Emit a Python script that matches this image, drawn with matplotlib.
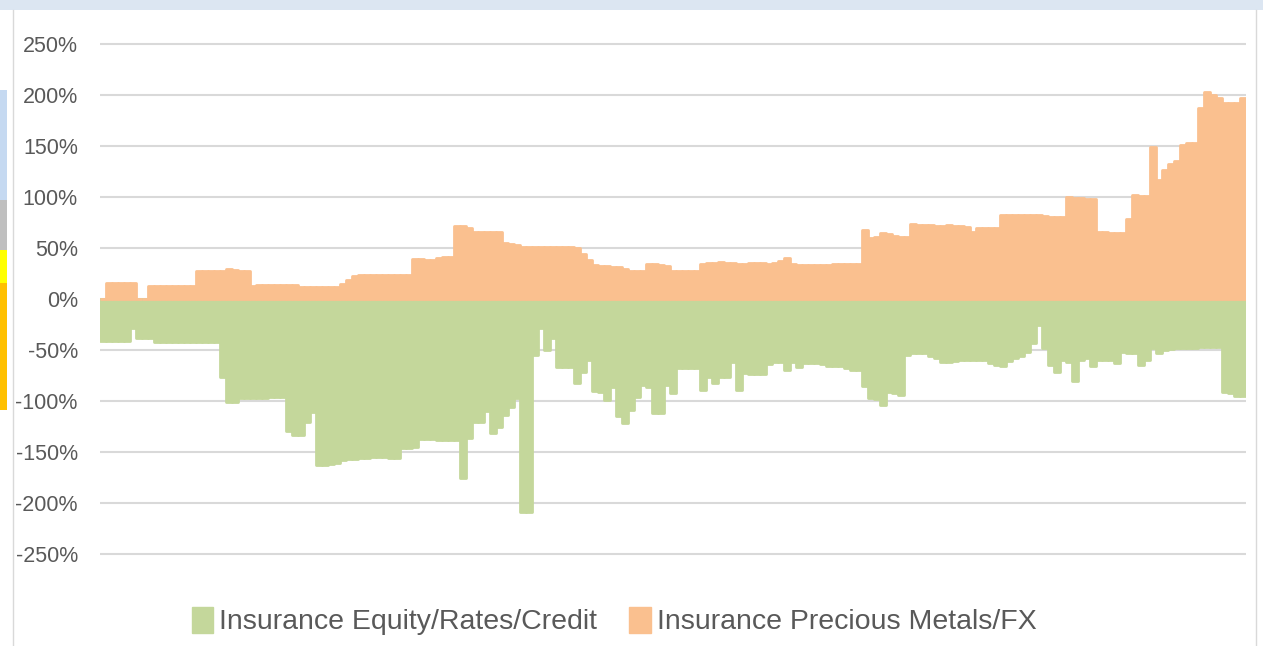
import matplotlib
matplotlib.use("Agg")
import matplotlib.pyplot as plt
from matplotlib.patches import Rectangle, Patch
from matplotlib.lines import Line2D
from matplotlib.ticker import FuncFormatter

# values in percent, one per period
equity_rates_credit = [
    -41, -41, -41, -41, -41, -28, -38, -38, -38, -42,
    -42, -42, -42, -42, -42, -42, -42, -42, -42, -42,
    -76, -101, -101, -97, -97, -97, -97, -97, -96, -96,
    -96, -129, -133, -133, -121, -111, -163, -163, -162, -161,
    -158, -157, -157, -156, -156, -155, -155, -155, -156, -156,
    -146, -146, -145, -137, -137, -137, -138, -138, -138, -138,
    -175, -136, -121, -121, -110, -131, -125, -114, -106, -97,
    -209, -209, -55, -28, -50, -38, -67, -67, -67, -82,
    -72, -60, -90, -91, -99, -86, -115, -122, -109, -96,
    -84, -86, -112, -112, -84, -92, -68, -68, -68, -68,
    -89, -76, -82, -76, -76, -62, -89, -73, -74, -74,
    -74, -64, -62, -62, -70, -62, -67, -63, -63, -63,
    -64, -66, -66, -66, -68, -70, -70, -85, -97, -98,
    -104, -91, -92, -94, -55, -53, -53, -53, -56, -58,
    -62, -62, -61, -60, -60, -60, -60, -60, -63, -65,
    -66, -61, -58, -56, -52, -43, -25, -48, -65, -72,
    -60, -62, -80, -60, -58, -66, -60, -60, -60, -63,
    -52, -53, -53, -65, -60, -48, -53, -50, -49, -48,
    -48, -48, -48, -47, -47, -47, -47, -91, -92, -95,
    -95,
]

precious_metals_fx = [
    0, 16, 16, 16, 16, 16, 0, 0, 13, 13,
    13, 13, 13, 13, 13, 13, 27, 27, 27, 27,
    27, 29, 28, 27, 27, 13, 14, 14, 14, 14,
    14, 14, 14, 12, 12, 12, 12, 12, 12, 12,
    15, 19, 23, 24, 24, 24, 24, 24, 24, 24,
    24, 24, 39, 39, 38, 38, 40, 41, 41, 72,
    72, 70, 66, 66, 66, 66, 66, 55, 54, 53,
    51, 51, 51, 51, 51, 51, 51, 51, 51, 50,
    44, 38, 33, 32, 32, 31, 31, 29, 27, 27,
    27, 34, 34, 33, 32, 27, 27, 27, 27, 27,
    34, 35, 35, 36, 35, 35, 34, 34, 35, 35,
    35, 34, 35, 37, 40, 34, 33, 33, 33, 33,
    33, 33, 34, 34, 34, 34, 34, 68, 60, 61,
    65, 64, 62, 61, 61, 74, 73, 73, 73, 72,
    72, 73, 72, 72, 71, 66, 70, 70, 70, 70,
    82, 82, 82, 82, 82, 82, 82, 81, 80, 80,
    80, 100, 99, 99, 98, 98, 66, 66, 65, 65,
    65, 78, 102, 101, 101, 149, 117, 126, 132, 135,
    151, 153, 153, 187, 203, 200, 197, 192, 192, 192,
    197,
]

series_names = ["Insurance Equity/Rates/Credit", "Insurance Precious Metals/FX"]
y_ticks = [-250, -200, -150, -100, -50, 0, 50, 100, 150, 200, 250]

GREEN = "#c4d79b"
ORANGE = "#fac08f"
TEXT = "#595959"
FONT = ["Liberation Sans", "DejaVu Sans"]

W, H = 1263, 646
fig = plt.figure(figsize=(W / 100, H / 100), dpi=100)

# screenshot frame bits around the chart
fig.add_artist(Rectangle((0, 1 - 10 / H), 1, 10 / H, transform=fig.transFigure,
                         color="#dce6f2", lw=0))
strip = [(90, 200, "#c5d9f1"), (200, 250, "#bfbfbf"), (250, 283, "#ffff00"),
         (283, 410, "#ffc000")]
for y0, y1, c in strip:
    fig.add_artist(Rectangle((0, 1 - y1 / H), 7 / W, (y1 - y0) / H,
                             transform=fig.transFigure, color=c, lw=0))
fig.add_artist(Line2D([13 / W, 13 / W], [0, 1 - 10 / H], transform=fig.transFigure,
                      color="#d9d9d9", lw=1))
fig.add_artist(Line2D([1256 / W, 1256 / W], [0, 1 - 10 / H], transform=fig.transFigure,
                      color="#d9d9d9", lw=1))

n = len(precious_metals_fx)
ylo, yhi = -255, 255
px_per_pct = 1.02
top_px = 299 - yhi * px_per_pct
bot_px = 299 - ylo * px_per_pct
ax = fig.add_axes([100 / W, 1 - bot_px / H, 1146 / W, (bot_px - top_px) / H])

idx = list(range(n))
ax.bar(idx, equity_rates_credit, width=1.0, color=GREEN, edgecolor=GREEN,
       linewidth=2, joinstyle="round", zorder=2)
ax.bar(idx, precious_metals_fx, width=1.0, color=ORANGE, edgecolor=ORANGE,
       linewidth=2, joinstyle="round", zorder=3)

ax.set_xlim(-0.5, n - 0.5)
ax.set_ylim(ylo, yhi)
ax.set_yticks(y_ticks)
ax.yaxis.set_major_formatter(FuncFormatter(lambda v, p: f"{int(v)}%"))
ax.set_xticks([])
ax.grid(axis="y", color="#d9d9d9", linewidth=1.5, zorder=0)
ax.set_axisbelow(True)
for s in ax.spines.values():
    s.set_visible(False)
ax.tick_params(axis="y", length=0, pad=16, labelcolor=TEXT)
for lab in ax.get_yticklabels():
    lab.set_fontfamily(FONT)
    lab.set_fontsize(15.5)

handles = [Patch(facecolor=GREEN, edgecolor=GREEN), Patch(facecolor=ORANGE, edgecolor=ORANGE)]
fig.legend(handles, series_names, loc="center", bbox_to_anchor=(614 / W, 1 - 621 / H),
           ncol=2, frameon=False, handlelength=0.75, handleheight=1.05,
           handletextpad=0.2, columnspacing=1.15, labelcolor=TEXT,
           prop={"family": FONT, "size": 20.5})

fig.savefig("out.png", dpi=100)
